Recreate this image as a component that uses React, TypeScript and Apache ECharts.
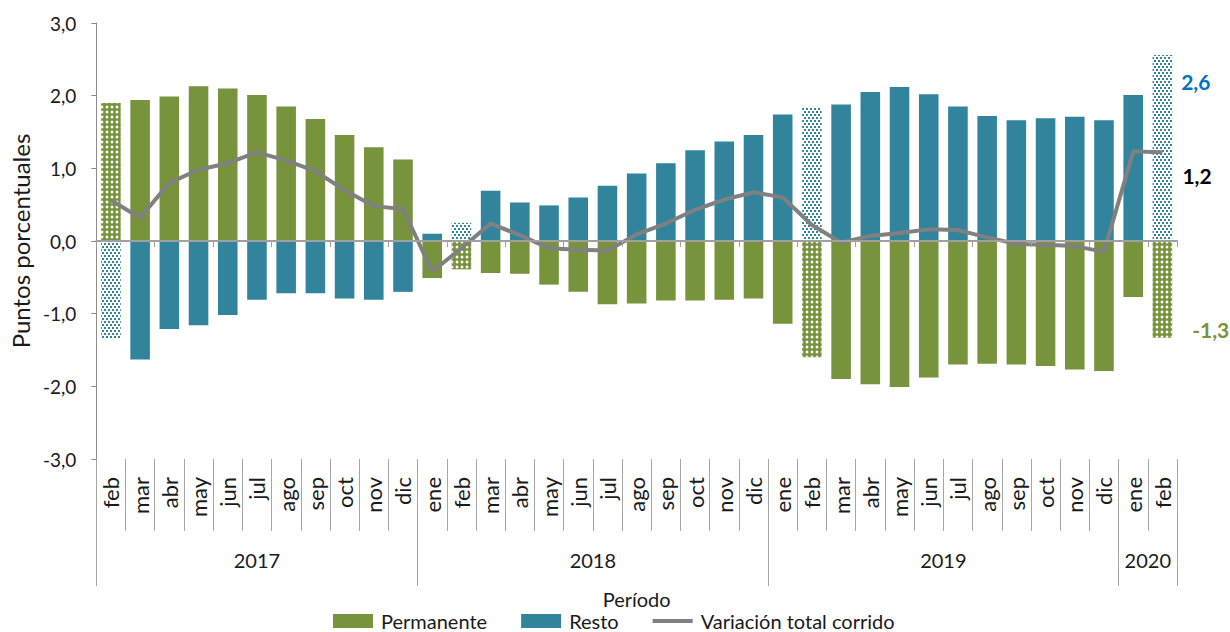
import React, { useEffect, useRef } from 'react';
import * as echarts from 'echarts';

// ---- Data ----
const months: string[] = [
  'feb', 'mar', 'abr', 'may', 'jun', 'jul', 'ago', 'sep', 'oct', 'nov', 'dic',
  'ene', 'feb', 'mar', 'abr', 'may', 'jun', 'jul', 'ago', 'sep', 'oct', 'nov', 'dic',
  'ene', 'feb', 'mar', 'abr', 'may', 'jun', 'jul', 'ago', 'sep', 'oct', 'nov', 'dic',
  'ene', 'feb',
];
const years: string[] = ['2017', '2018', '2019', '2020'];
const monthsPerYear: number[] = [11, 12, 12, 2];

const permanente: number[] = [
  1.90, 1.94, 1.99, 2.13, 2.10, 2.01, 1.85, 1.68, 1.46, 1.29, 1.12,
  -0.51, -0.39, -0.44, -0.45, -0.60, -0.70, -0.87, -0.86, -0.82, -0.82, -0.81, -0.79,
  -1.14, -1.60, -1.90, -1.97, -2.01, -1.88, -1.70, -1.69, -1.70, -1.72, -1.77, -1.79,
  -0.77, -1.33,
];
const resto: number[] = [
  -1.35, -1.63, -1.21, -1.16, -1.02, -0.81, -0.72, -0.72, -0.79, -0.81, -0.70,
  0.10, 0.25, 0.69, 0.53, 0.49, 0.60, 0.76, 0.93, 1.07, 1.25, 1.37, 1.46,
  1.74, 1.84, 1.88, 2.05, 2.12, 2.02, 1.85, 1.72, 1.66, 1.69, 1.71, 1.66,
  2.01, 2.56,
];
const variacionTotal: number[] = [
  0.56, 0.32, 0.80, 0.98, 1.07, 1.22, 1.11, 0.96, 0.70, 0.48, 0.44,
  -0.42, -0.10, 0.24, 0.08, -0.10, -0.12, -0.13, 0.09, 0.24, 0.43, 0.57, 0.67,
  0.60, 0.22, -0.02, 0.07, 0.11, 0.16, 0.15, 0.05, -0.04, -0.05, -0.07, -0.15,
  1.23, 1.22,
];
const hatchedMonth = 'feb';
const seriesNames: string[] = ['Permanente', 'Resto', 'Variación total corrido'];

// ---- Styling ----
const GREEN = '#77933C';
const TEAL = '#31849B';
const GRAY_LINE = '#808080';
const AXIS_GRAY = '#8c8c8c';
const FONT = 'Lato, "Open Sans", sans-serif';
const TEXT = '#1a1a1a';

const fmt = (v: number) => v.toFixed(1).replace('.', ',');

// green hatch: green lattice with white round holes
const greenHatch = {
  color: GREEN,
  decal: {
    color: '#ffffff',
    symbol: 'circle',
    symbolSize: 0.7,
    dashArrayX: [4, 1],
    dashArrayY: [4, 1],
  },
};
// teal hatch: teal dots on white
const tealHatch = {
  color: '#ffffff',
  decal: {
    color: TEAL,
    symbol: 'rect',
    symbolSize: 1,
    dashArrayX: [[2, 2], [0, 2, 2, 0]],
    dashArrayY: [2, 0.6],
  },
};

export default function App() {
  const ref = useRef<HTMLDivElement>(null);

  useEffect(() => {
    if (!ref.current) return;
    const chart = echarts.init(ref.current, undefined, { renderer: 'svg' });

    const last = months.length - 1;

    const barData = (vals: number[], hatch: any, color: string, labelOffset: number[]) =>
      vals.map((v, i) => {
        const item: any = { value: v };
        if (months[i] === hatchedMonth) item.itemStyle = hatch;
        if (i === last) {
          item.label = {
            show: true,
            position: 'right',
            offset: labelOffset,
            formatter: (p: any) => fmt(p.value),
            color,
            fontWeight: 'bold',
            fontSize: 21,
            fontFamily: FONT,
          };
        }
        return item;
      });

    // year boundaries and centers (in category units)
    const boundaries: number[] = [0];
    monthsPerYear.forEach((n) => boundaries.push(boundaries[boundaries.length - 1] + n));
    const centers = monthsPerYear.map((n, i) => boundaries[i] + n / 2);

    chart.setOption({
      animation: false,
      grid: { left: 95, right: 53, top: 23, bottom: 173 },
      legend: {
        data: [
          { name: seriesNames[0], icon: 'rect' },
          { name: seriesNames[1], icon: 'rect' },
          { name: seriesNames[2], icon: 'path://M0,0H40V4H0Z' },
        ],
        left: 333,
        top: 611,
        padding: 0,
        itemWidth: 40,
        itemHeight: 14,
        itemGap: 34,
        textStyle: { fontSize: 20, fontFamily: FONT, color: TEXT, padding: [0, 0, 0, 3] },
      },
      xAxis: [
        {
          type: 'category',
          data: months,
          position: 'bottom',
          axisLine: { onZero: true, lineStyle: { color: '#a0a0a0', width: 2 } },
          axisTick: { show: true, length: 6, lineStyle: { color: '#a0a0a0' } },
          axisLabel: { show: false },
          splitLine: { show: false },
          z: 10,
        },
        {
          type: 'category',
          data: months,
          position: 'bottom',
          axisLine: { show: false, onZero: false },
          axisTick: { show: true, interval: 0, length: 72, lineStyle: { color: '#a6a6a6' } },
          axisLabel: {
            interval: 0,
            rotate: 90,
            margin: 18,
            fontSize: 22,
            fontFamily: FONT,
            color: TEXT,
          },
        },
        {
          type: 'value',
          min: 0,
          max: months.length,
          position: 'bottom',
          axisLine: { show: false, onZero: false },
          splitLine: { show: false },
          axisTick: { show: true, customValues: boundaries, length: 127, lineStyle: { color: '#a6a6a6' } },
          axisLabel: {
            customValues: centers,
            margin: 91,
            fontSize: 20,
            fontFamily: FONT,
            color: TEXT,
            formatter: (v: number) => {
              const idx = centers.findIndex((c) => Math.abs(c - v) < 1e-6);
              return idx >= 0 ? years[idx] : '';
            },
          },
          name: 'Período',
          nameLocation: 'middle',
          nameGap: 130,
          nameTextStyle: { fontSize: 20, fontFamily: FONT, color: TEXT },
        },
      ],
      yAxis: {
        type: 'value',
        min: -3,
        max: 3,
        interval: 1,
        axisLine: { show: true, lineStyle: { color: AXIS_GRAY } },
        axisTick: { show: true, length: 5, lineStyle: { color: AXIS_GRAY } },
        splitLine: { show: false },
        axisLabel: {
          margin: 20,
          fontSize: 19,
          fontFamily: FONT,
          color: TEXT,
          formatter: (v: number) => fmt(v),
        },
        name: 'Puntos porcentuales',
        nameLocation: 'middle',
        nameGap: 62,
        nameRotate: 90,
        nameTextStyle: { fontSize: 24, fontFamily: FONT, color: TEXT },
      },
      series: [
        {
          name: seriesNames[0],
          type: 'bar',
          stack: 'contrib',
          barWidth: '67%',
          itemStyle: { color: GREEN },
          data: barData(permanente, greenHatch, GREEN, [15, 40]),
        },
        {
          name: seriesNames[1],
          type: 'bar',
          stack: 'contrib',
          barWidth: '67%',
          itemStyle: { color: TEAL },
          data: barData(resto, tealHatch, '#0070C0', [4, -66]),
        },
        {
          name: seriesNames[2],
          type: 'line',
          symbol: 'none',
          lineStyle: { color: GRAY_LINE, width: 4 },
          itemStyle: { color: GRAY_LINE },
          z: 5,
          data: variacionTotal,
          endLabel: {
            show: true,
            formatter: (p: any) => fmt(Array.isArray(p.value) ? p.value[1] : p.value),
            color: '#000',
            fontWeight: 'bold',
            fontSize: 21,
            fontFamily: FONT,
            offset: [12, 23],
          },
        },
      ],
    });

    return () => chart.dispose();
  }, []);

  return (
    <div
      ref={ref}
      style={{ position: 'fixed', left: 0, top: 0, width: 1230, height: 632, background: '#fff' }}
    />
  );
}
